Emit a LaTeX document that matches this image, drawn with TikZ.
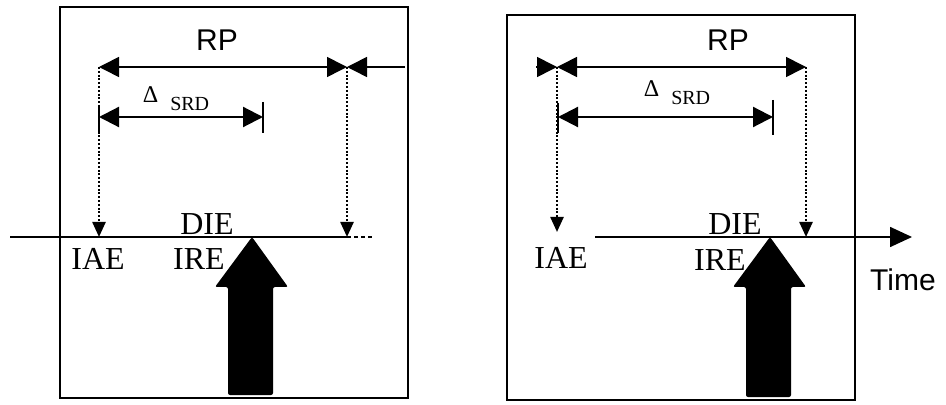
\documentclass[tikz,border=0pt]{standalone}
\usepackage{fontspec}
\setmainfont{Liberation Serif}
\setsansfont{Liberation Sans}
\usetikzlibrary{arrows.meta}
\tikzset{
  Big/.tip={Triangle[length=10pt,width=10pt]},
  Drop/.tip={Triangle[length=7.5pt,width=6.5pt]},
  frame/.style={draw, line width=1.4pt},
  rpline/.style={line width=0.8pt},
  srdline/.style={line width=1.1pt},
  drop/.style={line width=1.2pt, dash pattern=on 1pt off 0.9pt, -Drop},
  axis/.style={line width=0.8pt},
  event/.style={fill=black, rounded corners=1pt},
  label/.style={font=\fontsize{16}{16}\selectfont, inner sep=0pt},
  sanslabel/.style={font=\sffamily\fontsize{15}{15}\selectfont, inner sep=0pt},
  delta/.style={inner sep=0pt, font=\fontsize{12}{12}\selectfont},
}
\begin{document}
\begin{tikzpicture}[x=0.5pt, y=-0.5pt]
  \useasboundingbox (0,0) rectangle (946,405);

  % two frames
  \draw[frame] (60,7) rectangle (408,398);
  \draw[frame] (507,15) rectangle (855,400);

  % ---- left panel ----
  \coordinate (rpL1) at (99,67);
  \coordinate (rpL2) at (347,67);
  \coordinate (rpLout) at (405,67);
  \coordinate (srdL1) at (99,117);
  \coordinate (srdL2) at (263,117);
  \coordinate (axL0) at (10,237);
  \coordinate (iaeL) at (99,237);
  \coordinate (endL) at (347,237);
  \coordinate (axL1) at (375,237);

  \node[sanslabel] (rpLtxt) at (217,40) {RP};
  \node[delta] (srdLtxt) at (176,99) {Δ\hspace{6pt}\raisebox{-4pt}{\fontsize{10}{10}\selectfont SRD}};
  \node[label] (dieL) at (207,224) {DIE};
  \node[label] (ireL) at (199,259) {IRE};
  \node[label] (iaeLtxt) at (98,259) {IAE};

  \draw[rpline, Big-Big] (rpL1) -- (rpL2);
  \draw[rpline, -Big] (rpLout) -- (rpL2);
  \draw[srdline, Big-Big] (srdL1) -- (srdL2);
  \draw[srdline] (99,105) -- (99,132);
  \draw[srdline] (263,102) -- (263,133);
  \draw[drop] (rpL1) -- (iaeL);
  \draw[drop] (rpL2) -- (endL);
  \draw[axis] (axL0) -- (endL);
  \draw[axis, dash pattern=on 2pt off 1.5pt] (endL) -- (axL1);

  % ---- right panel ----
  \coordinate (rpR0) at (536,67);
  \coordinate (rpR1) at (557,67);
  \coordinate (rpR2) at (806,67);
  \coordinate (srdR1) at (558,117);
  \coordinate (srdR2) at (773,117);
  \coordinate (iaeR) at (557,232);
  \coordinate (endR) at (806,237);
  \coordinate (axR0) at (595,237);
  \coordinate (axR1) at (912,237);

  \node[sanslabel] (rpRtxt) at (728,40) {RP};
  \node[delta] (srdRtxt) at (677,93) {Δ\hspace{6pt}\raisebox{-4pt}{\fontsize{10}{10}\selectfont SRD}};
  \node[label] (dieR) at (735,224) {DIE};
  \node[label] (ireR) at (720,260) {IRE};
  \node[label] (iaeRtxt) at (561,258) {IAE};
  \node[sanslabel] (timeR) at (903,280) {Time};

  \draw[rpline, -Big] (rpR0) -- (rpR1);
  \draw[rpline, Big-Big] (rpR1) -- (rpR2);
  \draw[srdline, Big-Big] (srdR1) -- (srdR2);
  \draw[srdline] (558,103) -- (558,133);
  \draw[srdline] (773,100) -- (773,135);
  \draw[drop] (rpR1) -- (iaeR);
  \draw[drop] (rpR2) -- (endR);
  \draw[axis, -{Triangle[length=11pt,width=10pt]}] (axR0) -- (axR1);

  % event arrows
  \foreach \tx/\by in {252/395, 770/397}
    \fill[event] (\tx,237) -- (\tx+36,287) -- (\tx+21,287) -- (\tx+21,\by)
      -- (\tx-24,\by) -- (\tx-24,287) -- (\tx-37,287) -- cycle;
\end{tikzpicture}
\end{document}
